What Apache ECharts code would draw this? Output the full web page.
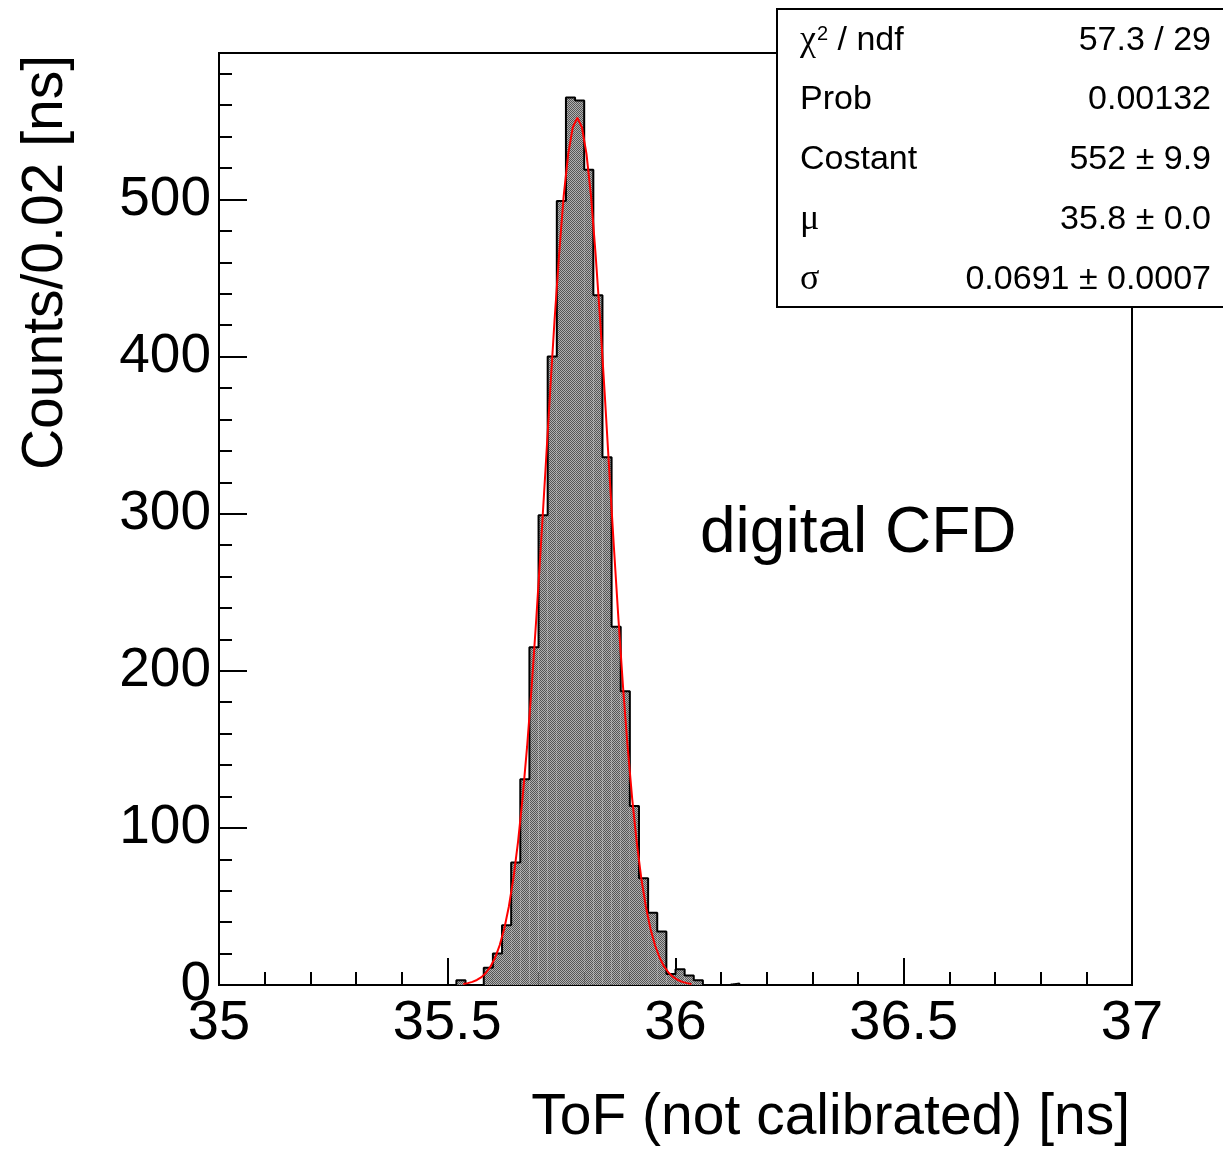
<!DOCTYPE html>
<html>
<head>
<meta charset="utf-8">
<script src="https://cdn.jsdelivr.net/npm/echarts@6/dist/echarts.min.js"></script>
<style>
  html, body { margin: 0; padding: 0; background: #fff; }
  #chart { width: 1223px; height: 1149px; }
</style>
</head>
<body>
<div id="chart"></div>
<script>
// histogram bins (lower edge, width 0.02 ns) and counts
const binStarts = [35.52, 35.54, 35.56, 35.58, 35.60, 35.62, 35.64, 35.66, 35.68, 35.70,
  35.72, 35.74, 35.76, 35.78, 35.80, 35.82, 35.84, 35.86, 35.88, 35.90,
  35.92, 35.94, 35.96, 35.98, 36.00, 36.02, 36.04, 36.06, 36.08, 36.10, 36.12]
const counts = [3, 0, 0, 11, 20, 38, 78, 131, 215, 299,
  400, 499, 565, 563, 519, 439, 336, 228, 187, 114,
  68, 46, 34, 7, 10, 6, 3, 0, 0, 0, 1]
const binWidth = 0.02

// gaussian fit curve
const fitX = [35.535, 35.545, 35.555, 35.565, 35.575, 35.585, 35.595, 35.605, 35.615, 35.625,
  35.635, 35.645, 35.655, 35.665, 35.675, 35.685, 35.695, 35.705, 35.715, 35.725,
  35.735, 35.745, 35.755, 35.765, 35.775, 35.785, 35.795, 35.805, 35.815, 35.825,
  35.835, 35.845, 35.855, 35.865, 35.875, 35.885, 35.895, 35.905, 35.915, 35.925,
  35.935, 35.945, 35.955, 35.965, 35.975, 35.985, 35.995, 36.005, 36.015, 36.025, 36.035]
const fitY = [0.7, 1.2, 2.0, 3.2, 5.0, 7.8, 11.8, 17.5, 25.4, 36,
  50, 68, 91, 119, 152, 190, 233, 279, 327, 376,
  423, 465, 502, 529, 546, 552, 546, 529, 502, 465,
  423, 376, 327, 279, 233, 190, 152, 119, 91, 68,
  50, 36, 25.4, 17.5, 11.8, 7.8, 5.0, 3.2, 2.0, 1.2, 0.7]

// stats box
const statNames = ['{g|χ}{s|2} / ndf', 'Prob', 'Costant', '{g|μ}', '{g|σ}']
const statValues = ['57.3 / 29', '0.00132', '552 ± 9.9', '35.8 ± 0.0', '0.0691 ± 0.0007']

const FONT = 'Liberation Sans, Arial, Helvetica, sans-serif'

// hatched gray fill like ROOT's pattern
const pat = document.createElement('canvas')
pat.width = 2
pat.height = 2
const pctx = pat.getContext('2d')
pctx.fillStyle = '#b0b0b0'
pctx.fillRect(0, 0, 2, 2)
pctx.fillStyle = '#555555'
pctx.fillRect(0, 0, 1, 1)
pctx.fillRect(1, 1, 1, 1)

const barData = binStarts.map((s, i) => [s, s + binWidth, counts[i]])

const last = binStarts.length - 1
const outline = [[binStarts[0], 0]]
binStarts.forEach((s, i) => outline.push([s, counts[i]]))
outline.push([binStarts[last] + binWidth, counts[last]])
outline.push([binStarts[last] + binWidth, 0])

const fitData = fitX.map((x, i) => [x, fitY[i]])

const chart = echarts.init(document.getElementById('chart'), null, { renderer: 'canvas' })

const statGraphics = []
statNames.forEach((n, i) => {
  const y = [41, 100, 160, 220, 280][i]
  statGraphics.push({
    type: 'text', x: 800, y: y, z: 101,
    style: {
      text: n, fill: '#000', font: '34px ' + FONT,
      textAlign: 'left', textVerticalAlign: 'middle',
      rich: {
        g: { font: '36px Liberation Serif, DejaVu Serif, serif', fill: '#000' },
        s: { font: '20px ' + FONT, fill: '#000', padding: [0, 0, 14, 1] }
      }
    }
  })
  statGraphics.push({
    type: 'text', x: 1211, y: y, z: 101,
    style: {
      text: statValues[i], fill: '#000', font: '34px ' + FONT,
      textAlign: 'right', textVerticalAlign: 'middle'
    }
  })
})

chart.setOption({
  animation: false,
  backgroundColor: '#fff',
  grid: {
    left: 219, top: 53, right: 91, bottom: 164,
    show: true, borderColor: '#000', borderWidth: 2, backgroundColor: 'transparent'
  },
  xAxis: {
    type: 'value', min: 35, max: 37, interval: 0.5,
    axisLine: { show: true, lineStyle: { color: '#000', width: 2 } },
    axisTick: { show: true, inside: true, length: 27, lineStyle: { color: '#000', width: 2 } },
    minorTick: { show: true, splitNumber: 5, length: 13, lineStyle: { color: '#000', width: 2 } },
    splitLine: { show: false },
    axisLabel: {
      color: '#000', fontSize: 56, fontFamily: FONT, margin: 11, lineHeight: 56,
      showMinLabel: true, showMaxLabel: true
    }
  },
  yAxis: [
    {
      type: 'value', min: 0, max: 593.25, interval: 100,
      axisLine: { show: true, lineStyle: { color: '#000', width: 2 } },
      axisTick: { show: true, inside: true, length: 28, lineStyle: { color: '#000', width: 2 } },
      splitLine: { show: false },
      axisLabel: {
        color: '#000', fontSize: 55, fontFamily: FONT, margin: 8,
        showMaxLabel: false
      }
    },
    {
      // minor ticks every 20 counts
      type: 'value', min: 0, max: 593.25, interval: 20, position: 'left', offset: 0,
      axisLine: { show: false },
      axisTick: { show: true, inside: true, length: 13, lineStyle: { color: '#000', width: 2 } },
      splitLine: { show: false },
      axisLabel: { show: false }
    }
  ],
  series: [
    {
      type: 'custom',
      yAxisIndex: 0,
      data: barData,
      encode: { x: [0, 1], y: 2 },
      renderItem: (params, api) => {
        const p0 = api.coord([api.value(0), api.value(2)])
        const p1 = api.coord([api.value(1), 0])
        return {
          type: 'rect',
          shape: { x: p0[0], y: p0[1], width: p1[0] - p0[0], height: p1[1] - p0[1] },
          style: { fill: { image: pat, repeat: 'repeat' }, stroke: null }
        }
      },
      z: 2
    },
    {
      type: 'line',
      yAxisIndex: 0,
      data: outline,
      step: 'end',
      showSymbol: false,
      lineStyle: { color: '#000', width: 2 },
      z: 3
    },
    {
      type: 'line',
      yAxisIndex: 0,
      data: fitData,
      showSymbol: false,
      lineStyle: { color: '#ff0000', width: 2 },
      z: 4
    }
  ],
  graphic: [
    {
      type: 'text', x: 46, y: 55, rotation: Math.PI / 2, z: 100,
      style: {
        text: 'Counts/0.02 [ns]', fill: '#000', font: '57px ' + FONT,
        textAlign: 'right', textVerticalAlign: 'middle'
      }
    },
    {
      type: 'text', x: 1130, y: 1118, z: 100,
      style: {
        text: 'ToF (not calibrated) [ns]', fill: '#000', font: '57px ' + FONT,
        textAlign: 'right', textVerticalAlign: 'middle'
      }
    },
    {
      type: 'text', x: 700, y: 534, z: 100,
      style: {
        text: 'digital CFD', fill: '#000', font: '64px ' + FONT,
        textAlign: 'left', textVerticalAlign: 'middle'
      }
    },
    {
      type: 'rect', z: 100,
      shape: { x: 777, y: 9, width: 470, height: 298 },
      style: { fill: '#fff', stroke: '#000', lineWidth: 2 }
    }
  ].concat(statGraphics)
})

window.addEventListener('resize', () => chart.resize())
</script>
</body>
</html>
